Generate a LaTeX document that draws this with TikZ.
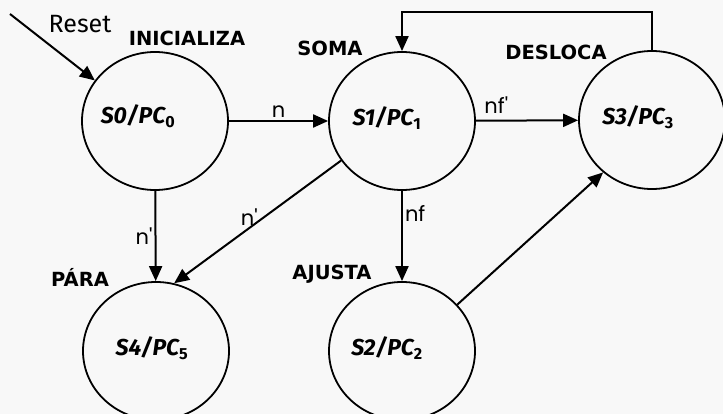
\documentclass[tikz,border=0pt]{standalone}
\usepackage{fontspec}
\usetikzlibrary{arrows.meta,shapes.geometric}
\setmainfont{DejaVu Sans}
\newfontfamily\statefont{Fira Sans}
\newfontfamily\condfont{Poppins}
\definecolor{paper}{HTML}{F8F8F8}

\begin{document}
\begin{tikzpicture}[x=1pt,y=-1pt]
  \tikzset{state/.style={ellipse,draw,line width=1.8pt,minimum width=146pt,minimum height=138pt},
    statetext/.style={font=\statefont\bfseries\itshape\fontsize{23}{26}\selectfont},
    tag/.style={font=\bfseries\fontsize{19.5}{22}\selectfont},
    cond/.style={font=\condfont\fontsize{21}{24}\selectfont,inner sep=2pt},
    trans/.style={line width=2pt,-{Triangle[length=15pt,width=13pt]}}}
  \fill[paper] (0,0) rectangle (723,414);
  \useasboundingbox (0,0) rectangle (723,414);
  \node[state,label={[statetext,xshift=-17pt,yshift=5pt]center:S0/PC{\upshape\textsubscript{0}}}] (s0) at (155,121) {};
  \node[state,label={[statetext,xshift=-15pt,yshift=3pt]center:S1/PC{\upshape\textsubscript{1}}}] (s1) at (402,121) {};
  \node[state,label={[statetext,xshift=-14pt,yshift=3pt]center:S3/PC{\upshape\textsubscript{3}}}] (s3) at (652,120) {};
  \node[state,label={[statetext,xshift=-15pt,yshift=3pt]center:S2/PC{\upshape\textsubscript{2}}}] (s2) at (402,351) {};
  \node[state,label={[statetext,xshift=-4pt,yshift=3pt]center:S4/PC{\upshape\textsubscript{5}}}] (s4) at (156,351) {};
  \node[tag] (inicializa) at (187,38) {INICIALIZA};
  \node[tag] (soma) at (330,48) {SOMA};
  \node[tag] (desloca) at (556,52) {DESLOCA};
  \node[tag] (para) at (80,277) {PÁRA};
  \node[tag] (ajusta) at (332,274) {AJUSTA};
  \node[font=\statefont\fontsize{25}{28}\selectfont] (reset) at (80,24) {Reset};
  \coordinate (start) at (10,14);
  \draw[trans] (start) -- (s0.146);
  \draw[trans] (s0) -- node[cond,above] {n} (s1);
  \draw[trans] (s1) -- node[cond,above,pos=0.2,yshift=4pt] {nf'} (s3);
  \draw[trans] (s1) -- node[cond,right,pos=0.25] {nf} (s2);
  \draw[trans] (s0) -- node[cond,left] {n'} (s4);
  \draw[trans] (s1.213) -- node[cond,above,pos=0.55] {n'} (s4.75);
  \draw[trans] (s2.40) -- (s3.227);
  \draw[trans] (s3.north) -- ++(0,-38) -| (s1.north);
\end{tikzpicture}
\end{document}
